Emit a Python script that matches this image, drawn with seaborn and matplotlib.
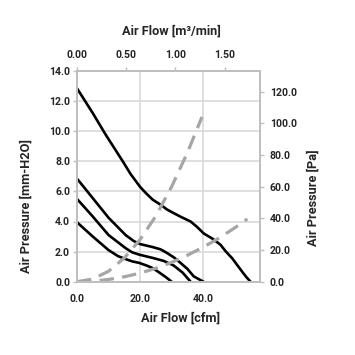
import pandas as pd
import seaborn as sns
import matplotlib.pyplot as plt

# fan curves, air flow [cfm] vs static pressure [mm-H2O]
fan1_cfm = [0, 5, 9, 14.5, 17, 20, 22, 24, 26.6, 28.5, 30.7, 33, 36, 38, 40.2,
            43, 45.5, 47, 49.2, 50.8, 52.4, 53.7, 55]
fan1_mm = [12.85, 11.2, 9.8, 8.0, 7.15, 6.3, 5.85, 5.45, 5.1, 4.8, 4.55, 4.3, 4.0,
           3.65, 3.2, 2.85, 2.45, 2.05, 1.55, 1.1, 0.65, 0.3, 0]
fan2_cfm = [0, 5, 10, 15.4, 18, 20, 22, 24, 26.5, 28.6, 30.8, 32.8, 35, 37, 40.1]
fan2_mm = [6.85, 5.55, 4.25, 3.1, 2.7, 2.5, 2.4, 2.3, 2.15, 1.9, 1.6, 1.25, 0.85,
           0.35, 0]
fan3_cfm = [0, 5, 10, 15.4, 17.5, 19.7, 22, 24, 27.5, 30.6, 32, 33.5, 36]
fan3_mm = [5.5, 4.33, 3.1, 2.23, 1.95, 1.8, 1.68, 1.58, 1.38, 1.08, 0.85, 0.6, 0]
fan4_cfm = [0, 5, 10, 13, 15.4, 17.5, 19.7, 22, 24, 25.3, 26.5, 28.3, 30]
fan4_mm = [3.95, 3.0, 2.1, 1.7, 1.5, 1.35, 1.25, 1.08, 0.9, 0.72, 0.55, 0.28, 0]

# system impedance curves, air flow [cfm] vs pressure [Pa]
imp1_cfm = [0, 5, 10, 15, 20, 25, 30, 35, 39.6]
imp1_pa = [0, 1.7, 6.6, 15, 26.6, 41.5, 60, 81.5, 104]
imp2_cfm = [0, 5, 10, 15, 20, 25, 30, 35, 40, 45, 50, 54]
imp2_pa = [0, 0.3, 1.4, 3.1, 5.4, 8.5, 12.2, 16.7, 21.8, 27.5, 34, 39.6]

fans = pd.concat([
    pd.DataFrame({'cfm': x, 'mm': y, 'fan': name})
    for name, x, y in [('f1', fan1_cfm, fan1_mm), ('f2', fan2_cfm, fan2_mm),
                       ('f3', fan3_cfm, fan3_mm), ('f4', fan4_cfm, fan4_mm)]
])
imps = pd.concat([
    pd.DataFrame({'cfm': x, 'pa': y, 'sys': name})
    for name, x, y in [('s1', imp1_cfm, imp1_pa), ('s2', imp2_cfm, imp2_pa)]
])

sns.set_style('white')
plt.rcParams['font.family'] = ['Roboto', 'DejaVu Sans']
plt.rcParams['font.weight'] = 'bold'

grid_c = '#d9d9d9'
spine_c = '#bfbfbf'
tick_fs = 7.6
lab_fs = 9.2

fig = plt.figure(figsize=(3.55, 3.55), dpi=100)
ax = fig.add_axes([77 / 355, 1 - 281.7 / 355, 183 / 355, 210.7 / 355])

sns.lineplot(data=fans, x='cfm', y='mm', units='fan', estimator=None, sort=False,
             color='black', lw=1.9, ax=ax, legend=False)
ax.set_xlim(0, 58)
ax.set_ylim(0, 14)
ax.set_xticks([0, 20, 40])
ax.set_xticklabels(['0.0', '20.0', '40.0'])
ax.set_yticks(range(0, 15, 2))
ax.set_yticklabels([f'{v:.1f}' for v in range(0, 15, 2)])
ax.grid(True, color=grid_c, lw=1.2)
ax.set_axisbelow(True)
ax.set_xlabel('')
ax.set_ylabel('')
ax.tick_params(axis='y', length=3, width=1, color=spine_c, labelsize=tick_fs, pad=2)
ax.tick_params(axis='x', length=0, labelsize=tick_fs, pad=9)

ax2 = ax.twinx()
sns.lineplot(data=imps, x='cfm', y='pa', units='sys', estimator=None, sort=False,
             color='#a6a6a6', lw=2.3, ax=ax2, legend=False)
for ln in ax2.lines:
    ln.set_dashes((4.5, 2.6))
ax2.set_ylim(0, 133)
ax2.set_yticks(range(0, 121, 20))
ax2.set_yticklabels([f'{v:.1f}' for v in range(0, 121, 20)])
ax2.set_ylabel('')
ax2.tick_params(axis='y', length=3, width=1, color=spine_c, labelsize=tick_fs, pad=4)

ax3 = ax.twiny()
ax3.set_xlim(0, 1.86)
ax3.set_xticks([0, 0.5, 1.0, 1.5])
ax3.set_xticklabels(['0.00', '0.50', '1.00', '1.50'])
ax3.tick_params(axis='x', length=3, width=1, color=spine_c, labelsize=tick_fs, pad=5)

for a in (ax, ax2, ax3):
    for s in a.spines.values():
        s.set_color(spine_c)
        s.set_linewidth(1.2)

fig.text(171 / 355, 1 - 31 / 355, 'Air Flow [m³/min]', ha='center', va='center',
         fontsize=lab_fs, fontweight='bold')
fig.text(181 / 355, 1 - 318 / 355, 'Air Flow [cfm]', ha='center', va='center',
         fontsize=lab_fs, fontweight='bold')
fig.text(26 / 355, 1 - 206 / 355, 'Air Pressure [mm-H2O]', ha='center', va='center',
         rotation=90, fontsize=lab_fs, fontweight='bold')
fig.text(313 / 355, 1 - 198 / 355, 'Air Pressure [Pa]', ha='center', va='center',
         rotation=90, fontsize=lab_fs, fontweight='bold')

fig.savefig('out.png', dpi=100)
